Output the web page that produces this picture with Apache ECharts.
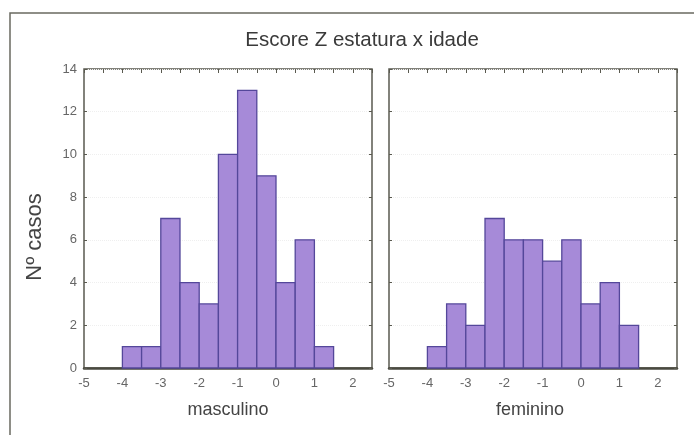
<!DOCTYPE html>
<html><head><meta charset="utf-8">
<script src="https://cdn.jsdelivr.net/npm/echarts@6/dist/echarts.min.js"></script>
<style>html,body{margin:0;padding:0;background:#fff}#c{width:694px;height:435px}</style>
</head><body><div id="c"></div>
<script>
var binStarts = [-4, -3.5, -3, -2.5, -2, -1.5, -1, -0.5, 0, 0.5, 1];
var binWidth = 0.5;
var masculino = [1, 1, 7, 4, 3, 10, 13, 9, 4, 6, 1];
var feminino = [1, 3, 2, 7, 6, 6, 5, 6, 3, 4, 2];
var panelNames = ['masculino', 'feminino'];
var titleText = 'Escore Z estatura x idade';
var yName = 'Nº casos';

function toData(vals){ return binStarts.map(function(s,i){ return [s, s+binWidth, vals[i]]; }); }
function renderItem(params, api){
  var p0 = api.coord([api.value(0), api.value(2)]);
  var p1 = api.coord([api.value(1), 0]);
  return {type:'rect', shape:{x:p0[0], y:p0[1], width:p1[0]-p0[0], height:p1[1]-p0[1]},
    style:{fill:'#a68ad8', stroke:'#54479a', lineWidth:1.3}};
}
var grids = [
  {left:84, top:69, width:288, height:299, show:true, borderColor:'#5a5a50', borderWidth:1.5},
  {left:389, top:69, width:288, height:299, show:true, borderColor:'#5a5a50', borderWidth:1.5}
];
var tickStyle = {color:'#5a5a50', width:1};
var xAxes = [], yAxes = [];
[0,1].forEach(function(g){
  xAxes.push({type:'value', gridIndex:g, min:-5, max:2.5, interval:1, position:'bottom',
    axisLine:{show:true, onZero:false, lineStyle:{color:'#4a4a40', width:2.5}}, axisTick:{show:false},
    axisLabel:{showMaxLabel:false, color:'#666', fontSize:13, fontFamily:'Liberation Sans', margin:9},
    splitLine:{show:false}});
  xAxes.push({type:'value', gridIndex:g, min:-5, max:2.5, interval:0.5, position:'top',
    axisLine:{show:false, onZero:false}, axisTick:{show:true, inside:true, length:4, lineStyle:tickStyle},
    minorTick:{show:false},
    axisLabel:{show:false}, splitLine:{show:false}});
  yAxes.push({type:'value', gridIndex:g, min:0, max:14, interval:2, position:'left',
    axisLine:{show:false, onZero:false}, axisTick:{show:true, inside:true, length:3, lineStyle:tickStyle},
    axisLabel:{show:g===0, color:'#666', fontSize:13, fontFamily:'Liberation Sans', margin:7},
    splitLine:{show:true, lineStyle:{color:'#efefef', type:'dotted'}}});
  yAxes.push({type:'value', gridIndex:g, min:0, max:14, interval:2, position:'right',
    axisLine:{show:false, onZero:false}, axisTick:{show:true, inside:true, length:3, lineStyle:tickStyle},
    axisLabel:{show:false}, splitLine:{show:false}});
});
var chart = echarts.init(document.getElementById('c'));
chart.setOption({
  animation:false,
  backgroundColor:'#fff',
  title:{text:titleText, left:357, top:25, textAlign:'center',
    textStyle:{fontSize:20.5, fontWeight:'normal', color:'#3a3a3a', fontFamily:'Liberation Sans'}},
  grid:grids, xAxis:xAxes, yAxis:yAxes,
  series:[
    {type:'custom', xAxisIndex:0, yAxisIndex:0, renderItem:renderItem, encode:{x:[0,1], y:2}, data:toData(masculino)},
    {type:'custom', xAxisIndex:2, yAxisIndex:2, renderItem:renderItem, encode:{x:[0,1], y:2}, data:toData(feminino)}
  ],
  graphic:[
    {type:'rect', shape:{x:10, y:13, width:700, height:440}, style:{fill:'none', stroke:'#6a6a60', lineWidth:1.5}, silent:true},
    {type:'text', x:35, y:237, rotation:Math.PI/2, style:{text:yName, fontSize:22, fill:'#444', fontFamily:'Liberation Sans', align:'center', verticalAlign:'middle'}},
    {type:'text', x:228, y:410, style:{text:panelNames[0], fontSize:18, fill:'#444', fontFamily:'Liberation Sans', align:'center', verticalAlign:'middle'}},
    {type:'text', x:530, y:410, style:{text:panelNames[1], fontSize:18, fill:'#444', fontFamily:'Liberation Sans', align:'center', verticalAlign:'middle'}}
  ]
});
</script></body></html>
